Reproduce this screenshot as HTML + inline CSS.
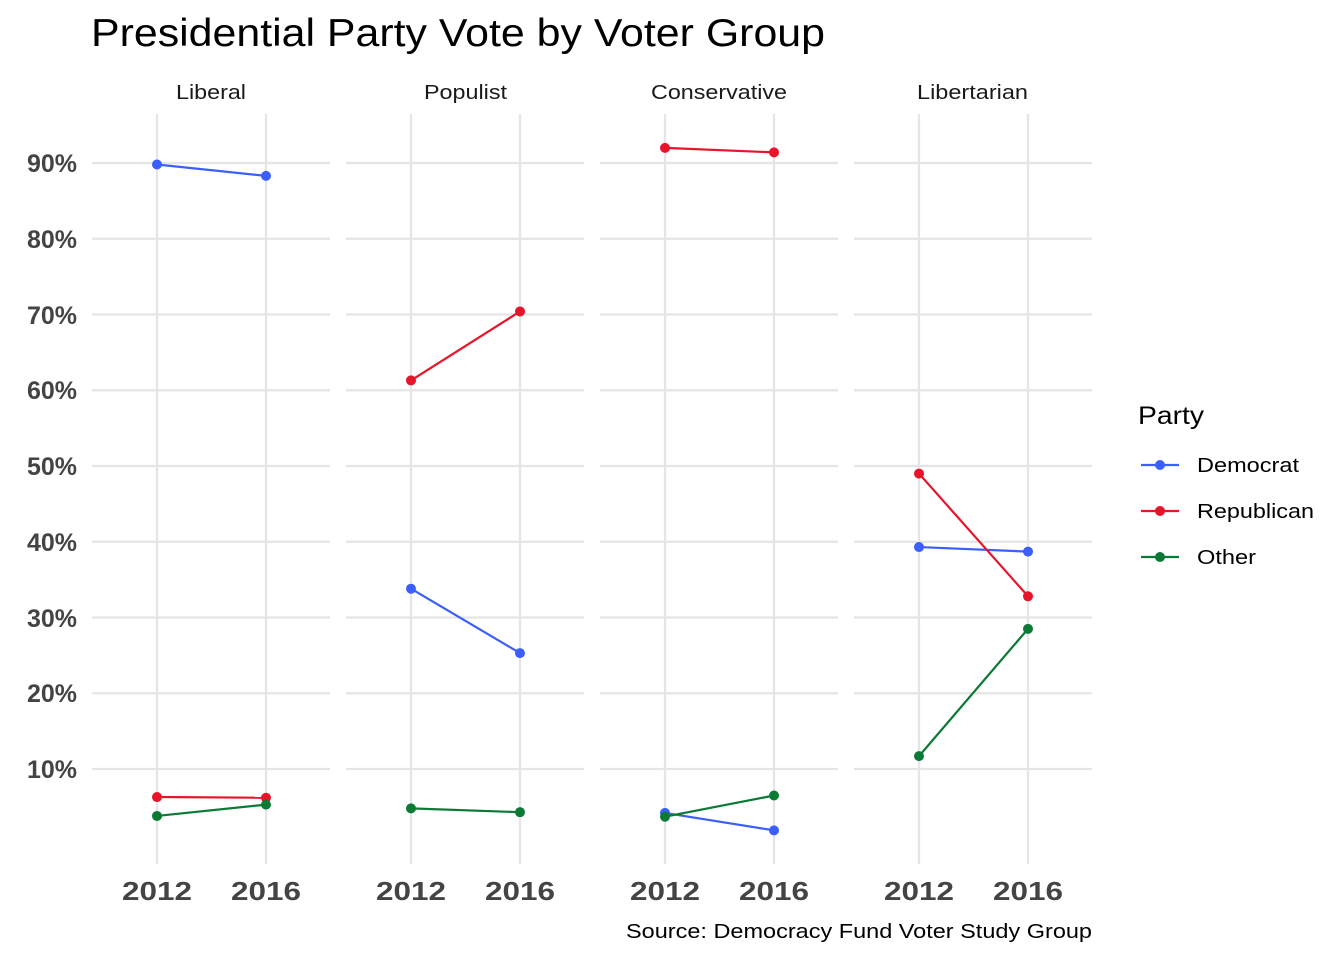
<!DOCTYPE html>
<html><head><meta charset="utf-8"><style>
html,body{margin:0;padding:0;background:#fff}
svg{display:block}
text{font-family:"Liberation Sans",Arial,sans-serif}
</style></head><body>
<svg width="1344" height="960" viewBox="0 0 1344 960" xmlns="http://www.w3.org/2000/svg">
<rect width="1344" height="960" fill="#fff"/>
<text x="91" y="46" font-size="39" fill="#000" textLength="734" lengthAdjust="spacingAndGlyphs">Presidential Party Vote by Voter Group</text>
<g id="grid" stroke="#e5e5e5" stroke-width="2.2">
</g>
<g font-size="20" fill="#1a1a1a">
<text x="176" y="99" textLength="70" lengthAdjust="spacingAndGlyphs">Liberal</text>
<text x="424" y="99" textLength="83" lengthAdjust="spacingAndGlyphs">Populist</text>
<text x="651" y="99" textLength="136" lengthAdjust="spacingAndGlyphs">Conservative</text>
<text x="917" y="99" textLength="111" lengthAdjust="spacingAndGlyphs">Libertarian</text>
</g>
<g font-size="25" font-weight="bold" fill="#444" text-anchor="end">
<text x="77" y="172">90%</text>
<text x="77" y="248">80%</text>
<text x="77" y="324">70%</text>
<text x="77" y="399">60%</text>
<text x="77" y="475">50%</text>
<text x="77" y="551">40%</text>
<text x="77" y="627">30%</text>
<text x="77" y="702">20%</text>
<text x="77" y="778">10%</text>
</g>
<g id="xl" font-size="26" font-weight="bold" fill="#444"></g>
<text x="1092" y="938" font-size="20" text-anchor="end" fill="#000" textLength="466" lengthAdjust="spacingAndGlyphs">Source: Democracy Fund Voter Study Group</text>
<g id="data" stroke-width="2.2"></g>
<text x="1138" y="424" font-size="25" fill="#000" textLength="66" lengthAdjust="spacingAndGlyphs">Party</text>
<g font-size="20" fill="#000">
<line x1="1141" y1="465" x2="1179" y2="465" stroke="#3b5ffc" stroke-width="2.2"/><circle cx="1160" cy="465" r="5" fill="#3b5ffc"/><text x="1197" y="472" textLength="102" lengthAdjust="spacingAndGlyphs">Democrat</text>
<line x1="1141" y1="511" x2="1179" y2="511" stroke="#e8142a" stroke-width="2.2"/><circle cx="1160" cy="511" r="5" fill="#e8142a"/><text x="1197" y="518" textLength="117" lengthAdjust="spacingAndGlyphs">Republican</text>
<line x1="1141" y1="557" x2="1179" y2="557" stroke="#0b7a35" stroke-width="2.2"/><circle cx="1160" cy="557" r="5" fill="#0b7a35"/><text x="1197" y="564" textLength="59" lengthAdjust="spacingAndGlyphs">Other</text>
</g>
<script>
var g=document.getElementById('grid'),d=document.getElementById('data'),xl=document.getElementById('xl'),ns='http://www.w3.org/2000/svg';
function el(p,t,a){var e=document.createElementNS(ns,t);for(var k in a)e.setAttribute(k,a[k]);p.appendChild(e);return e;}
for(var i=0;i<4;i++){var x0=92+254*i;
 for(var v=10;v<=90;v+=10){var y=769-(v-10)*7.575;el(g,'line',{x1:x0,x2:x0+238,y1:y,y2:y});}
 el(g,'line',{x1:157+254*i,x2:157+254*i,y1:114,y2:864});
 el(g,'line',{x1:266+254*i,x2:266+254*i,y1:114,y2:864});
 el(xl,'text',{x:122+254*i,y:900,textLength:70,lengthAdjust:'spacingAndGlyphs'}).textContent='2012';
 el(xl,'text',{x:231+254*i,y:900,textLength:70,lengthAdjust:'spacingAndGlyphs'}).textContent='2016';}
var C={D:'#3b5ffc',R:'#e8142a',O:'#0b7a35'};
var data=[
 {D:[89.8,88.3],R:[6.3,6.2],O:[3.8,5.3]},
 {D:[33.8,25.3],R:[61.3,70.4],O:[4.8,4.3]},
 {D:[4.2,1.9],R:[92,91.4],O:[3.7,6.5]},
 {D:[39.3,38.7],R:[49,32.8],O:[11.7,28.5]}];
data.forEach(function(p,i){['D','R','O'].forEach(function(k){
 var x1=157+254*i,x2=266+254*i,y1=769-(p[k][0]-10)*7.575,y2=769-(p[k][1]-10)*7.575;
 el(d,'line',{x1:x1,y1:y1,x2:x2,y2:y2,stroke:C[k]});
 el(d,'circle',{cx:x1,cy:y1,r:5,fill:C[k]});el(d,'circle',{cx:x2,cy:y2,r:5,fill:C[k]});});});
</script>
</svg>
</body></html>
